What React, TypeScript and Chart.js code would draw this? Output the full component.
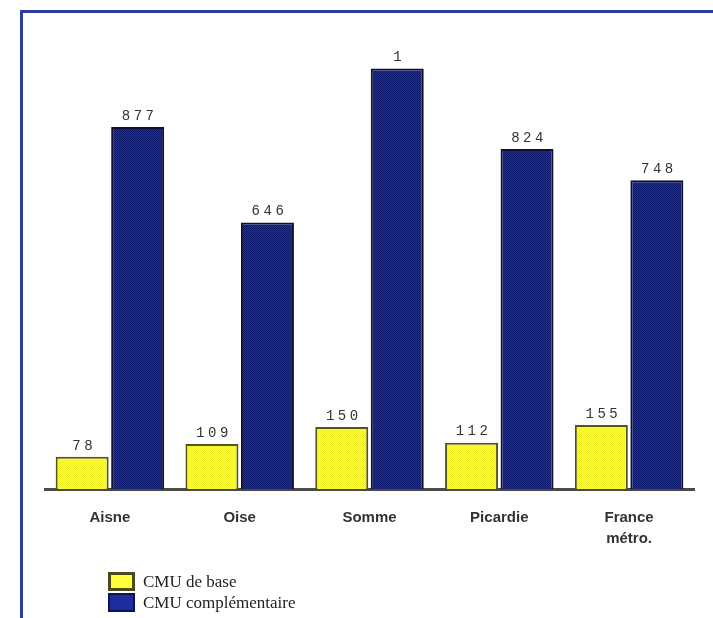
import React, { useEffect, useRef } from "react";
import { Chart, registerables } from "chart.js";

Chart.register(...registerables);

const categories: (string | string[])[] = ["Aisne", "Oise", "Somme", "Picardie", ["France", "métro."]];
const seriesNames = ["CMU de base", "CMU complémentaire"];
const baseValues = [78, 109, 150, 112, 155];
const compValues = [877, 646, 1019, 824, 748];
const baseLabels = ["78", "109", "150", "112", "155"];
const compLabels = ["877", "646", "1", "824", "748"];

function makePattern(c1: string, c2: string): CanvasPattern | string {
  const p = document.createElement("canvas");
  p.width = 2;
  p.height = 2;
  const g = p.getContext("2d");
  if (!g) return c1;
  g.fillStyle = c1;
  g.fillRect(0, 0, 2, 2);
  g.fillStyle = c2;
  g.fillRect(0, 0, 1, 1);
  g.fillRect(1, 1, 1, 1);
  const pat = g.createPattern(p, "repeat");
  return pat || c1;
}

const valueLabelPlugin = {
  id: "valueLabels",
  afterDatasetsDraw(chart: any) {
    const ctx = chart.ctx as CanvasRenderingContext2D;
    const allLabels = [baseLabels, compLabels];
    ctx.save();
    ctx.font = '14px "Liberation Mono", monospace';
    ctx.fillStyle = "#333";
    ctx.textAlign = "center";
    ctx.textBaseline = "bottom";
    (ctx as any).letterSpacing = "3.5px";
    chart.data.datasets.forEach((_: any, di: number) => {
      const meta = chart.getDatasetMeta(di);
      meta.data.forEach((bar: any, i: number) => {
        ctx.fillText(allLabels[di][i], bar.x + 2, bar.y - 4);
      });
    });
    ctx.restore();
  },
};

export default function App() {
  const ref = useRef<HTMLCanvasElement>(null);

  useEffect(() => {
    if (!ref.current) return;
    const yellow = makePattern("#ffff3a", "#eeee22");
    const blue = makePattern("#1d2c9e", "#0e1a70");
    const chart = new Chart(ref.current, {
      type: "bar",
      data: {
        labels: categories,
        datasets: [
          {
            label: seriesNames[0],
            data: baseValues,
            backgroundColor: yellow as any,
            borderColor: "#55551a",
            borderWidth: 2,
            categoryPercentage: 0.855,
            barPercentage: 0.955,
          },
          {
            label: seriesNames[1],
            data: compValues,
            backgroundColor: blue as any,
            borderColor: "#10102e",
            borderWidth: 2,
            categoryPercentage: 0.855,
            barPercentage: 0.955,
          },
        ],
      },
      options: {
        animation: false,
        responsive: false,
        maintainAspectRatio: false,
        layout: { padding: { left: 45, right: 19, top: 35, bottom: 59 } },
        plugins: {
          legend: { display: false },
          tooltip: { enabled: false },
        },
        scales: {
          x: {
            grid: { display: false },
            border: { display: true, color: "#4a4a4a", width: 3, dash: [3, 2] },
            ticks: {
              color: "#333",
              padding: 10,
              font: { family: '"Liberation Sans", Arial, sans-serif', size: 15, weight: "bold", lineHeight: 1.4 },
              maxRotation: 0,
            },
          },
          y: {
            display: false,
            min: 0,
            max: 1100,
          },
        },
      },
      plugins: [valueLabelPlugin],
    });
    return () => chart.destroy();
  }, []);

  const legendText: React.CSSProperties = {
    fontFamily: '"Liberation Serif", "Times New Roman", serif',
    fontSize: 17,
    color: "#222",
    lineHeight: "20px",
    marginLeft: 8,
  };

  return (
    <div style={{ position: "fixed", left: 0, top: 0, width: 713, height: 618, overflow: "hidden", background: "#fff" }}>
      <div
        style={{
          position: "absolute",
          left: 20,
          top: 10,
          width: 693,
          height: 608,
          borderTop: "3px solid #2e3c9e",
          borderLeft: "3px solid #2e3c9e",
          boxSizing: "border-box",
        }}
      />
      <canvas ref={ref} width={713} height={618} style={{ position: "absolute", left: 0, top: 0, width: 713, height: 618 }} />
      <div style={{ position: "absolute", left: 108, top: 571 }}>
        <div style={{ display: "flex", alignItems: "center", height: 21 }}>
          <span style={{ display: "inline-block", width: 21, height: 13, background: "#ffff3a", border: "3px solid #4a4a1c" }} />
          <span style={legendText}>{seriesNames[0]}</span>
        </div>
        <div style={{ display: "flex", alignItems: "center", height: 21 }}>
          <span style={{ display: "inline-block", width: 23, height: 15, background: "#1d2c9e", border: "2px solid #0c1450" }} />
          <span style={legendText}>{seriesNames[1]}</span>
        </div>
      </div>
    </div>
  );
}
